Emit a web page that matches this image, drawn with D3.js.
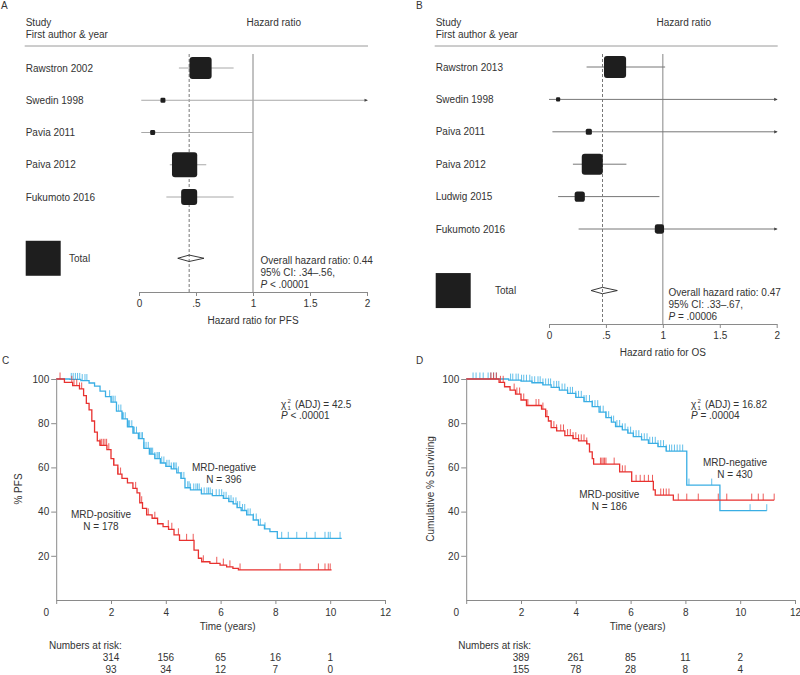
<!DOCTYPE html>
<html><head><meta charset="utf-8">
<script src="https://cdn.jsdelivr.net/npm/d3@7"></script>
<style>
body{margin:0;background:#fff}
svg{display:block}
text{font-family:"Liberation Sans",Arial,Helvetica,sans-serif;font-size:10px;fill:#333}
</style>
</head><body>
<svg id="chart" width="800" height="675"></svg>
<script>
// ---------------- DATA ----------------
// Forest plot A (PFS)
const studiesA = ["Rawstron 2002","Swedin 1998","Pavia 2011","Paiva 2012","Fukumoto 2016"];
const hrA      = [0.54, 0.21, 0.12, 0.40, 0.44];
const loA      = [0.35, 0.02, 0.02, 0.27, 0.24];
const hiA      = [0.83, 2.60, 1.00, 0.59, 0.83];
const weightA  = [40, 2, 2, 52, 21];
const overallA = [0.44, 0.34, 0.57];
const overallTextA = ["Overall hazard ratio: 0.44", "95% CI: .34\u2013.56,", ["P", " < .00001"]];

// Forest plot B (OS)
const studiesB = ["Rawstron 2013","Swedin 1998","Paiva 2011","Paiva 2012","Ludwig 2015","Fukumoto 2016"];
const hrB      = [0.58, 0.08, 0.35, 0.38, 0.27, 0.97];
const loB      = [0.33, 0.00, 0.03, 0.21, 0.08, 0.26];
const hiB      = [1.02, 2.60, 2.60, 0.68, 0.97, 2.60];
const weightB  = [40, 1.4, 3, 36, 8.5, 7];
const overallB = [0.47, 0.37, 0.60];
const overallTextB = ["Overall hazard ratio: 0.47", "95% CI: .33\u2013.67,", ["P", " = .00006"]];

const hrTicks  = [0, 0.5, 1, 1.5, 2];
const hrTickLabels = ["0", ".5", "1", "1.5", "2"];

// Kaplan-Meier C (PFS): [time, % surviving] step points
const negC = [[0,100],[0.5,99.8],[0.9,99.3],[1.2,98.2],[1.4,96.8],[1.6,94.5],[1.8,92],[2.0,89.5],[2.2,85.5],[2.4,82],[2.6,78.4],[2.8,75.5],[3.0,73],[3.2,68.6],[3.4,66],[3.6,64],[3.8,62],[4.0,60.5],[4.2,59.3],[4.4,57.5],[4.55,55],[4.7,50.8],[4.9,49.8],[5.3,48],[5.7,47.2],[6.1,46],[6.3,44.5],[6.46,43.5],[6.6,41.8],[6.75,40.5],[6.95,38.5],[7.19,36.2],[7.38,33.9],[7.6,32.2],[7.8,30.9],[8.07,27.9]];
const negCEnd = 10.42;
const posC = [[0,100],[0.3,98.5],[0.6,97],[0.85,95.5],[1.0,92.5],[1.1,89],[1.2,86],[1.3,81],[1.4,76],[1.5,72],[1.6,70],[1.85,68],[2.0,64],[2.1,61],[2.25,57],[2.4,55],[2.6,53],[2.8,50.5],[2.95,48.5],[3.05,44],[3.15,41.5],[3.3,38.5],[3.5,37],[3.7,34.5],[3.9,33.2],[4.1,32],[4.3,29.5],[4.5,27],[5.03,22.6],[5.19,18.9],[5.31,17.3],[5.61,16.6],[5.98,15.8],[6.22,15],[6.45,14.3],[6.65,13.6]];
const posCEnd = 10.05;
const negCCensor = [0.55,0.62,0.7,0.78,0.86,0.95,1.05,1.12,1.95,2.03,2.08,2.15,2.2,2.28,2.36,2.42,2.45,2.52,2.6,2.64,2.68,2.76,2.82,2.85,2.93,3.04,3.1,3.15,3.2,3.28,3.36,3.44,3.48,3.52,3.6,3.68,3.72,3.77,3.85,3.93,4.04,4.12,4.2,4.28,4.33,4.38,4.46,4.58,4.66,4.8,4.85,4.9,5.02,5.1,5.16,5.22,5.3,5.4,5.5,5.56,5.62,5.7,5.84,5.95,6.04,6.12,6.2,6.3,6.38,6.46,6.56,6.62,6.7,6.8,6.88,7.0,7.08,7.2,7.3,7.45,7.62,8.23,8.47,8.78,9.14,9.45,9.81,9.93,10.0,10.36];
const posCCensor = [0.14,0.57,0.65,0.75,0.85,0.93,1.6,1.66,1.72,1.78,1.84,1.92,2.1,2.25,2.35,2.9,3.12,3.36,3.6,4.09,4.22,4.46,4.76,5.0,5.37,5.86,6.1,6.34,6.71,8.17,8.9,9.57,9.81,9.93,10.0];

// Kaplan-Meier D (OS)
const negD = [[0,100],[1.55,99.5],[2.0,99],[2.4,98.3],[2.8,97.3],[3.1,96.2],[3.4,95],[3.7,93.5],[4.0,91.7],[4.3,89.8],[4.6,87.5],[4.85,85],[5.1,82.5],[5.3,80.5],[5.45,78.5],[5.7,77],[5.9,75.5],[6.1,73.9],[6.4,72.5],[6.65,70.9],[7.0,69.4],[7.3,67.4],[8.05,52],[9.26,40.4]];
const negDEnd = 10.97;
const posD = [[0,100],[1.2,98.5],[1.4,96.5],[1.6,95],[1.8,93.2],[2.0,90.5],[2.2,88],[2.75,86.4],[2.9,83],[3.0,81],[3.1,78],[3.3,76.5],[3.6,74.4],[3.9,73],[4.1,72],[4.4,70.6],[4.5,67],[4.6,64],[4.65,61.5],[5.6,58],[6.04,53.7],[6.83,49.8],[6.9,47.5],[7.56,45.2]];
const posDEnd = 11.24;
const negDCensor = [0.25,0.36,0.5,0.62,0.8,0.9,1.0,1.1,1.62,1.7,1.82,1.9,2.02,2.1,2.2,2.32,2.4,2.5,2.62,2.7,2.8,2.9,3.0,3.08,3.2,3.3,3.38,3.5,3.6,3.7,3.8,3.88,4.0,4.1,4.2,4.3,4.38,4.5,4.6,4.7,4.8,4.9,5.0,5.1,5.2,5.3,5.38,5.5,5.6,5.7,5.8,5.9,6.0,6.1,6.2,6.3,6.4,6.5,6.6,6.7,6.8,6.9,7.0,7.1,7.2,7.3,7.42,7.5,7.6,7.7,7.8,7.9,8.13,8.96,10.36,10.97];
const posDCensor = [0.9,1.0,1.1,1.25,1.35,1.75,1.85,1.95,2.1,2.25,2.55,2.65,2.8,2.95,3.2,3.3,3.45,3.55,3.7,3.8,3.9,4.0,4.1,4.2,4.3,4.4,4.9,4.95,5.0,5.05,5.1,5.4,5.7,5.8,6.2,6.35,6.5,6.65,6.8,7.1,7.2,7.3,7.4,7.74,8.05,8.47,9.2,9.51,10.42,10.66,10.84,11.24];

const timeTicks = [0,2,4,6,8,10,12];
const survTicks = [20,40,60,80,100];
const riskTimes = [2,4,6,8,10];
const riskC = [[314,156,65,16,1],[93,34,12,7,0]];
const riskD = [[389,261,85,11,2],[155,78,28,8,4]];

// ---------------- DRAWING ----------------
const svg = d3.select("#chart");
const BLUE = "#3aaee4", RED = "#e8312f", AX = "#8a8a8a";

function forest(o){
  const g = svg.append("g");
  const x = d3.scaleLinear().domain([0,2]).range(o.xr);
  const y = i => o.y0 + o.step*i;
  const size = d3.scaleSqrt().domain([0,100]).range([0,35]);
  const n = o.names.length;
  const yTot = y(n + 0.9);

  g.append("text").attr("x",o.panelX).attr("y",9).text(o.panel);
  g.append("text").attr("x",o.left).attr("y",26).text("Study");
  g.append("text").attr("x",o.left).attr("y",38).text("First author & year");
  g.append("text").attr("x",o.hrHeadX).attr("y",26).text("Hazard ratio");
  g.append("line").attr("x1",o.left-1).attr("x2",o.xr[1]+1).attr("y1",46).attr("y2",46)
    .attr("stroke","#9a9a9a").attr("stroke-width",1);

  g.append("line").attr("x1",x(1)).attr("x2",x(1)).attr("y1",54).attr("y2",o.axisY)
    .attr("stroke","#777").attr("stroke-width",0.9);
  g.append("line").attr("x1",x(o.overall[0])).attr("x2",x(o.overall[0])).attr("y1",54).attr("y2",o.axisY)
    .attr("stroke","#555").attr("stroke-width",0.8).attr("stroke-dasharray","3,2");

  o.names.forEach((nm,i)=>{
    const hi = Math.min(o.hi[i],2);
    g.append("line").attr("x1",x(o.lo[i])).attr("x2",x(hi)).attr("y1",y(i)).attr("y2",y(i))
      .attr("stroke",o.ciColor).attr("stroke-width",1);
    if(o.hi[i]>2){
      const xe = x(2);
      g.append("path").attr("d",`M${xe+1},${y(i)} L${xe-2.5},${y(i)-1.6} L${xe-2.5},${y(i)+1.6} Z`)
        .attr("fill","#444");
    }
    const s = size(o.w[i]);
    g.append("rect").attr("x",x(o.hr[i])-s/2).attr("y",y(i)-s/2).attr("width",s).attr("height",s)
      .attr("rx",Math.min(3,s/4)).attr("fill","#1e1e1e");
    g.append("text").attr("x",o.left).attr("y",y(i)+3.6).text(nm);
  });

  const dh = 3.2;
  g.append("path").attr("d",`M${x(o.overall[1])},${yTot} L${x(o.overall[0])},${yTot-dh} L${x(o.overall[2])},${yTot} L${x(o.overall[0])},${yTot+dh} Z`)
    .attr("fill","none").attr("stroke","#222").attr("stroke-width",0.9);
  const S = size(100);
  g.append("rect").attr("x",o.left).attr("y",yTot-S/2).attr("width",S).attr("height",S).attr("fill","#1e1e1e");
  g.append("text").attr("x",o.totalX).attr("y",yTot+3.6).text("Total");

  o.otext.forEach((t,i)=>{
    const tx = g.append("text").attr("x",o.otX).attr("y",o.otY + i*12);
    if(Array.isArray(t)){
      tx.append("tspan").attr("font-style","italic").text(t[0]);
      tx.append("tspan").text(t[1]);
    } else tx.text(t);
  });

  const ax = g.append("g").attr("transform",`translate(0,${o.axisY})`).attr("color",AX)
    .call(d3.axisBottom(x).tickValues(hrTicks).tickFormat((d,i)=>hrTickLabels[i]).tickSize(4).tickSizeOuter(0).tickPadding(4));
  ax.selectAll("text").attr("font-family",null).attr("font-size",null);
  g.append("text").attr("x",x(1)).attr("y",o.axisY+32).attr("text-anchor","middle").text(o.axisLabel);
}

forest({panel:"A", panelX:1, left:25.7, hrHeadX:246.5, xr:[139,367], y0:68, step:32.25, axisY:292,
  names:studiesA, hr:hrA, lo:loA, hi:hiA, w:weightA, overall:overallA, ciColor:"#a8a8a8",
  totalX:69, otX:260.5, otY:264, otext:overallTextA, axisLabel:"Hazard ratio for PFS"});
forest({panel:"B", panelX:416, left:435.7, hrHeadX:656.5, xr:[549,776.7], y0:67, step:32.4, axisY:324,
  names:studiesB, hr:hrB, lo:loB, hi:hiB, w:weightB, overall:overallB, ciColor:"#777",
  totalX:495, otX:668.5, otY:296, otext:overallTextB, axisLabel:"Hazard ratio for OS"});

function km(o){
  const g = svg.append("g");
  const x = d3.scaleLinear().domain([0,12]).range(o.xr);
  const y = d3.scaleLinear().domain([0,100]).range([600,379]);
  g.append("text").attr("x",o.panelX).attr("y",364).text(o.panel);

  const ax = g.append("g").attr("transform","translate(0,600)").attr("color",AX)
    .call(d3.axisBottom(x).tickValues(timeTicks).tickSize(4).tickSizeOuter(0).tickPadding(4.5));
  ax.selectAll("text").attr("font-family",null).attr("font-size",null)
    .attr("dx", d => d===0 ? -10.5 : 0);
  const ay = g.append("g").attr("transform",`translate(${o.xr[0]},0)`).attr("color",AX)
    .call(d3.axisLeft(y).tickValues(survTicks).tickSize(5).tickSizeOuter(0).tickPadding(2));
  ay.selectAll("text").attr("font-family",null).attr("font-size",null);

  g.append("text").attr("transform",`translate(${o.yLabX},489) rotate(-90)`).attr("text-anchor","middle").text(o.yLabel);
  g.append("text").attr("x",(o.xr[0]+o.xr[1])/2+7).attr("y",630).attr("text-anchor","middle").text("Time (years)");

  const bis = d3.bisector(d=>d[0]).right;
  const surv = (steps,t) => steps[Math.max(0,bis(steps,t)-1)][1];
  const line = d3.line().x(d=>x(d[0])).y(d=>y(d[1])).curve(d3.curveStepAfter);

  o.curves.forEach(c=>{
    const pts = c.steps.concat([[c.end, c.steps[c.steps.length-1][1]]]);
    g.append("path").attr("d",line(pts)).attr("fill","none").attr("stroke",c.color).attr("stroke-width",1.3);
    g.selectAll(null).data(c.censor).enter().append("line")
      .attr("x1",d=>x(d)).attr("x2",d=>x(d))
      .attr("y1",d=>y(surv(c.steps,d))).attr("y2",d=>y(surv(c.steps,d))-6.5)
      .attr("stroke",c.color).attr("stroke-width",0.8);
  });

  g.append("text").attr("x",o.statX).attr("y",408).text("\u03c7");
  g.append("text").attr("x",o.statX+6.5).attr("y",403).attr("style","font-size:6px").text("2");
  g.append("text").attr("x",o.statX+6.5).attr("y",410).attr("style","font-size:6px").text("1");
  g.append("text").attr("x",o.statX+14).attr("y",408).text(o.stat);
  const p = g.append("text").attr("x",o.statX).attr("y",419);
  p.append("tspan").attr("font-style","italic").text("P");
  p.append("tspan").text(o.p);

  o.labels.forEach(l=>{
    g.append("text").attr("x",l.x).attr("y",l.y).attr("text-anchor","middle").text(l.t1);
    g.append("text").attr("x",l.x).attr("y",l.y+11.5).attr("text-anchor","middle").text(l.t2);
  });

  g.append("text").attr("x",o.riskX).attr("y",649).text("Numbers at risk:");
  o.risk.forEach((row,r)=>{
    row.forEach((v,i)=>{
      g.append("text").attr("x",x(riskTimes[i])).attr("y",661+r*11.5).attr("text-anchor","middle").text(v);
    });
  });
}

km({panel:"C", panelX:2, xr:[56.2,385], yLabX:21.5, yLabel:"% PFS", statX:281,
  stat:"(ADJ) = 42.5", p:" < .00001", riskX:49, risk:riskC,
  curves:[{steps:negC,end:negCEnd,censor:negCCensor,color:BLUE},{steps:posC,end:posCEnd,censor:posCCensor,color:RED}],
  labels:[{x:224,y:471,t1:"MRD-negative",t2:"N = 396"},{x:101,y:518,t1:"MRD-positive",t2:"N = 178"}]});
km({panel:"D", panelX:416, xr:[466.2,795], yLabX:433.5, yLabel:"Cumulative % Surviving", statX:691,
  stat:"(ADJ) = 16.82", p:" = .00004", riskX:458.3, risk:riskD,
  curves:[{steps:negD,end:negDEnd,censor:negDCensor,color:BLUE},{steps:posD,end:posDEnd,censor:posDCensor,color:RED}],
  labels:[{x:735,y:466,t1:"MRD-negative",t2:"N = 430"},{x:609.3,y:498,t1:"MRD-positive",t2:"N = 186"}]});
</script>
</body></html>
